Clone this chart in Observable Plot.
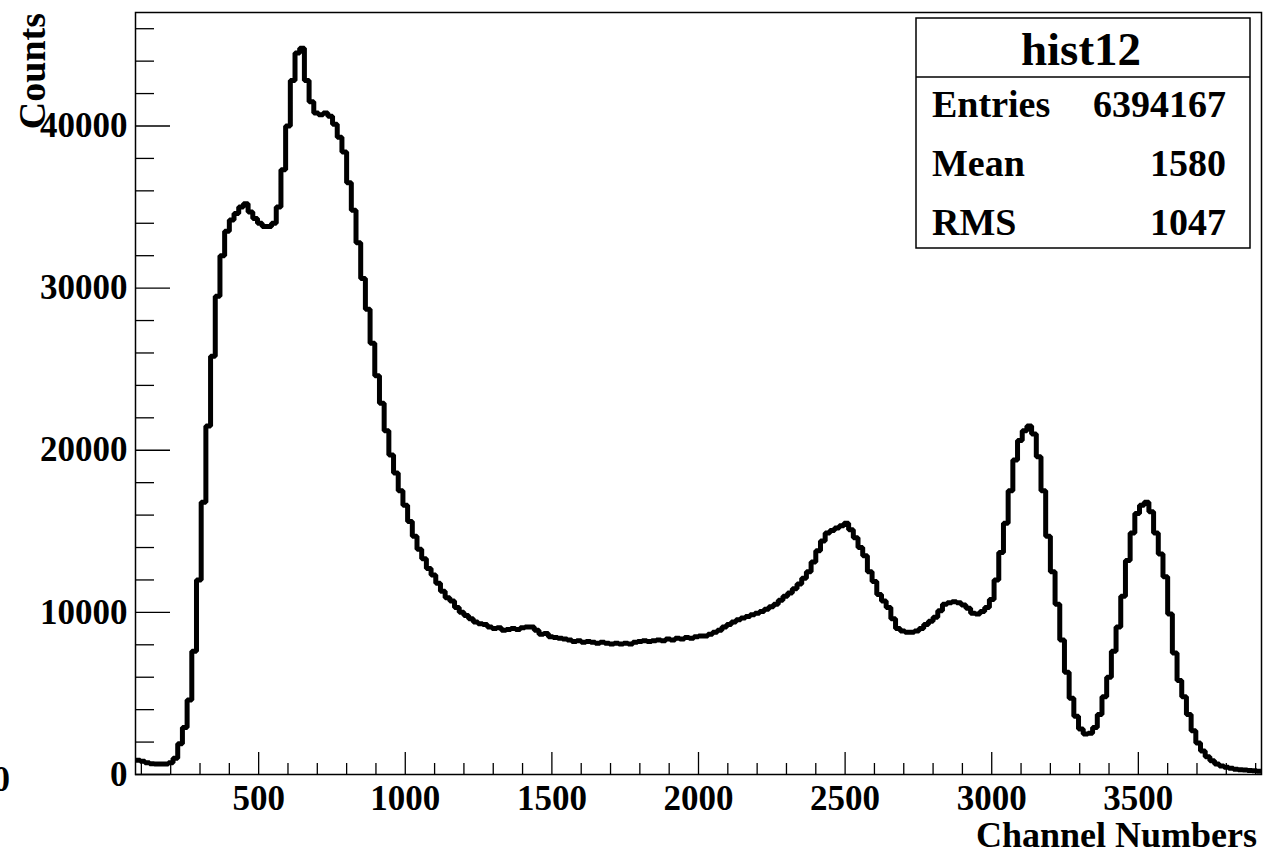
<!DOCTYPE html>
<html>
<head>
<meta charset="utf-8">
<script src="https://cdn.jsdelivr.net/npm/d3@7"></script>
<script src="https://cdn.jsdelivr.net/npm/@observablehq/plot@0.6"></script>
<style>
  html, body { margin: 0; padding: 0; background: #fff; }
  #chart { width: 1266px; height: 854px; }
</style>
</head>
<body>
<div id="chart"></div>
<script>
// ---- Data ----
const histTitle = "hist12";
const statLabels = ["Entries", "Mean", "RMS"];
const statValues = ["6394167", "1580", "1047"];
const xTitle = "Channel Numbers";
const yTitle = "Counts";

// histogram binning: 240 bins of 16 channels from 80 to 3920
const binStart = 80;
const binWidth = 16;
const counts = [
  880, 820, 720, 660, 640, 640, 650, 720, 1000, 1900,
  2900, 4600, 7600, 12000, 16800, 21500, 25800, 29500, 32000, 33500,
  34200, 34600, 35000, 35200, 34700, 34300, 34000, 33800, 33800, 34000,
  35000, 37300, 40000, 42800, 44500, 44800, 42800, 41500, 40800, 40700,
  40800, 40600, 40100, 39300, 38400, 36500, 34800, 32800, 30600, 28700,
  26600, 24600, 22900, 21200, 19700, 18600, 17500, 16600, 15600, 14700,
  13900, 13300, 12700, 12300, 11800, 11300, 10900, 10700, 10300, 10000,
  9800, 9600, 9400, 9300, 9250, 9100, 9000, 9050, 8900, 8950,
  9000, 8950, 9050, 9100, 9100, 8900, 8650, 8700, 8500, 8450,
  8400, 8350, 8300, 8200, 8250, 8150, 8200, 8150, 8100, 8150,
  8100, 8050, 8100, 8050, 8100, 8050, 8150, 8200, 8250, 8200,
  8250, 8300, 8250, 8350, 8300, 8400, 8350, 8450, 8400, 8500,
  8550, 8550, 8650, 8780, 8900, 9100, 9250, 9400, 9550, 9650,
  9750, 9850, 9950, 10050, 10200, 10350, 10500, 10750, 11000, 11200,
  11450, 11750, 12100, 12500, 13100, 13800, 14400, 14900, 15050, 15200,
  15350, 15500, 15100, 14600, 14000, 13500, 12500, 11900, 11100, 10700,
  10300, 9600, 9000, 8850, 8780, 8780, 8850, 9000, 9250, 9450,
  9700, 10100, 10500, 10600, 10650, 10600, 10450, 10250, 9950, 9900,
  10050, 10300, 10800, 12000, 13700, 15500, 17500, 19400, 20600, 21200,
  21500, 21000, 19600, 17500, 14700, 12500, 10500, 8300, 6300, 4700,
  3600, 2800, 2500, 2550, 2900, 3700, 4800, 6000, 7600, 9100,
  11000, 13200, 14900, 16100, 16600, 16800, 16200, 14900, 13600, 12200,
  9900, 7500, 5800, 4800, 3700, 2700, 1950, 1450, 1100, 850,
  650, 520, 450, 380, 330, 300, 280, 250, 230, 200
];

// axis settings
const xMin = 80, xMax = 3920;
const yMin = 0, yMax = 47000;
const xMajorTicks = [500, 1000, 1500, 2000, 2500, 3000, 3500];
const xMinorTicks = d3.range(100, 3901, 100).filter(v => v % 500 !== 0);
const yMajorTicks = [0, 10000, 20000, 30000, 40000];
const yMinorTicks = d3.range(2000, 46001, 2000).filter(v => v % 10000 !== 0);

// ---- Build step data (left bin edges + closing edge) ----
const histPoints = counts.map((c, i) => ({x: binStart + i * binWidth, y: c}));
histPoints.push({x: binStart + counts.length * binWidth, y: counts[counts.length - 1]});

const W = 1266, H = 854;
const mL = 135, mR = 5, mT = 12, mB = 80;
const plotW = W - mL - mR, plotH = H - mT - mB;
const FONT = "'Liberation Serif', 'Times New Roman', serif";

const svg = Plot.plot({
  width: W, height: H,
  marginLeft: mL, marginRight: mR, marginTop: mT, marginBottom: mB,
  x: {domain: [xMin, xMax], axis: null},
  y: {domain: [yMin, yMax], axis: null},
  style: {background: "#fff", fontFamily: FONT, color: "#000", overflow: "visible"},
  marks: [
    Plot.ruleX(xMinorTicks, {x: d => d, insetTop: plotH - 11, stroke: "#000", strokeWidth: 1.3}),
    Plot.ruleX(xMajorTicks, {x: d => d, insetTop: plotH - 22, stroke: "#000", strokeWidth: 1.3}),
    Plot.ruleY(yMinorTicks, {y: d => d, insetRight: plotW - 19, stroke: "#000", strokeWidth: 1.3}),
    Plot.ruleY(yMajorTicks, {y: d => d, insetRight: plotW - 35, stroke: "#000", strokeWidth: 1.3}),
    Plot.text(xMajorTicks, {x: d => d, frameAnchor: "bottom", dy: 11, lineAnchor: "top",
      text: d => String(d), fontSize: 35, fontWeight: "bold", fill: "#000"}),
    Plot.text(yMajorTicks, {y: d => d, frameAnchor: "left", dx: -8, textAnchor: "end",
      lineAnchor: "middle", text: d => String(d), fontSize: 35, fontWeight: "bold", fill: "#000"}),
    Plot.line(histPoints, {x: "x", y: "y", curve: "step-after", stroke: "#000",
      strokeWidth: 5, strokeLinejoin: "miter", clip: true}),
    Plot.frame({stroke: "#000", strokeWidth: 1.5})
  ]
});

const s = d3.select(svg);
// axis titles
s.append("text").attr("x", 1257).attr("y", 847).attr("text-anchor", "end")
  .attr("font-family", FONT).attr("font-weight", "bold").attr("font-size", 36)
  .attr("fill", "#000").text(xTitle);
s.append("text").attr("transform", "translate(45,13) rotate(-90)").attr("text-anchor", "end")
  .attr("font-family", FONT).attr("font-weight", "bold").attr("font-size", 38)
  .attr("fill", "#000").text(yTitle);
// stray clipped label at far left (present in the reference)
s.append("text").attr("x", 10).attr("y", 791).attr("text-anchor", "end")
  .attr("font-family", FONT).attr("font-weight", "bold").attr("font-size", 35)
  .attr("fill", "#000").text("0");

// statistics box
const box = s.append("g");
box.append("rect").attr("x", 916).attr("y", 18).attr("width", 334).attr("height", 230)
  .attr("fill", "#fff").attr("stroke", "#000").attr("stroke-width", 1.5);
box.append("line").attr("x1", 916).attr("x2", 1250).attr("y1", 77).attr("y2", 77)
  .attr("stroke", "#000").attr("stroke-width", 1.5);
box.append("text").attr("x", 1081).attr("y", 65).attr("text-anchor", "middle")
  .attr("font-family", FONT).attr("font-weight", "bold").attr("font-size", 47)
  .attr("fill", "#000").text(histTitle);
const rowBase = [117, 176, 235];
statLabels.forEach((lab, i) => {
  box.append("text").attr("x", 932).attr("y", rowBase[i]).attr("text-anchor", "start")
    .attr("font-family", FONT).attr("font-weight", "bold").attr("font-size", 38)
    .attr("fill", "#000").text(lab);
  box.append("text").attr("x", 1226).attr("y", rowBase[i]).attr("text-anchor", "end")
    .attr("font-family", FONT).attr("font-weight", "bold").attr("font-size", 38)
    .attr("fill", "#000").text(statValues[i]);
});

document.getElementById("chart").appendChild(svg);
</script>
</body>
</html>
